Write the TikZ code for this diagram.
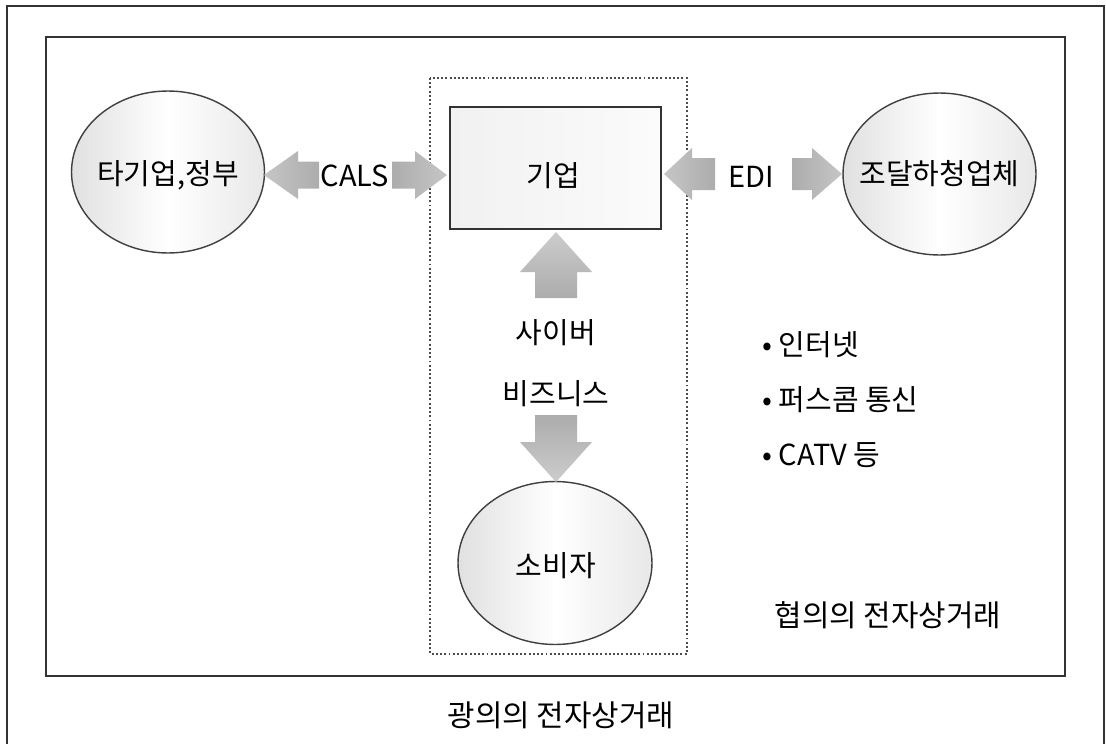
\documentclass[tikz,border=0pt]{standalone}
\usepackage{fontspec}
\newfontfamily\kr{Noto Sans CJK KR}
\usetikzlibrary{shapes.geometric}
\begin{document}
\begin{tikzpicture}[x=0.02cm,y=-0.02cm,
  lbl/.style={font=\kr\fontsize{16.5}{18}\selectfont, inner sep=0pt},
  title/.style={font=\kr\fontsize{17}{19}\selectfont, inner sep=0pt},
  ell/.style={ellipse, draw=black!75, line width=0.8pt, left color=gray!24, right color=gray!18, middle color=white, inner sep=0pt, minimum width=3.86cm, minimum height=3.24cm},
  compbox/.style={rectangle, draw=black!80, line width=0.9pt, left color=gray!11, right color=gray!3, inner sep=0pt, minimum width=4.22cm, minimum height=2.44cm},
]
\useasboundingbox (0,0) rectangle (1106,744);
\fill[white] (0,0) rectangle (1106,744);
% outer frame
\draw[gray!40!black, line width=1.1pt] (7,750) -- (7,6) -- (1104,6) -- (1104,750);
% inner frame
\draw[black!80, line width=1pt] (46,37) rectangle (1065,676);
% dotted frame
\draw[black!70, line width=1pt, dash pattern=on 1.1pt off 1.3pt] (430,78) rectangle (687,654);

% nodes
\node[ell] (gov) at (168,172) {};
\node[lbl] (govt) at (168,175) {타기업,정부};
\node[ell] (sup) at (939.5,174) {};
\node[lbl] (supt) at (939.5,174) {조달하청업체};
\node[ell, minimum width=3.88cm, minimum height=3.26cm] (con) at (555,563) {};
\node[lbl] (cont) at (556,566) {소비자};
\node[compbox] (firm) at (555.5,168) {};
\node[lbl] (firmt) at (553.5,176) {기업};

% block arrows
\shade[left color=gray!45, middle color=gray!8, right color=gray!65]
  (264,175) -- (298,151) -- (298,161.5) -- (319,161.5) -- (319,188.5) -- (298,188.5) -- (298,199) -- cycle;
\shade[left color=gray!65, middle color=gray!8, right color=gray!45]
  (447,175) -- (415,151) -- (415,161.5) -- (392,161.5) -- (392,188.5) -- (415,188.5) -- (415,199) -- cycle;
\shade[left color=gray!45, middle color=gray!8, right color=gray!65]
  (664,174) -- (692,148) -- (692,158) -- (715,158) -- (715,190) -- (692,190) -- (692,200) -- cycle;
\shade[left color=gray!65, middle color=gray!8, right color=gray!45]
  (842,174) -- (812,148) -- (812,158) -- (792,158) -- (792,190) -- (812,190) -- (812,200) -- cycle;
\shade[top color=gray!40, middle color=gray!10, bottom color=gray!65]
  (556,232) -- (520,272) -- (535,272) -- (535,298) -- (577,298) -- (577,272) -- (592,272) -- cycle;
\shade[top color=gray!65, middle color=gray!10, bottom color=gray!40]
  (556,482) -- (520,442) -- (535,442) -- (535,415) -- (577,415) -- (577,442) -- (592,442) -- cycle;

% labels
\node[lbl] (cals) at (355,176) {CALS};
\node[lbl] (edi) at (751,177) {EDI};
\node[lbl] (cyber) at (556,333) {사이버};
\node[lbl] (biz) at (556,394) {비즈니스};
\node[lbl, anchor=west] (b1) at (762,345) {• 인터넷};
\node[lbl, anchor=west] (b2) at (762,400) {• 퍼스콤 통신};
\node[lbl, anchor=west] (b3) at (762,455) {• CATV 등};
\node[title] (narrow) at (888,615) {협의의 전자상거래};
\node[title] (broad) at (561,715) {광의의 전자상거래};
\end{tikzpicture}
\end{document}
